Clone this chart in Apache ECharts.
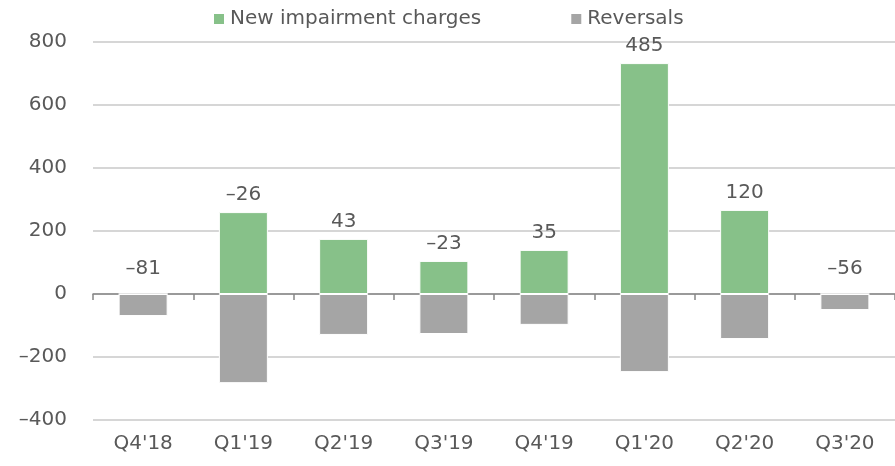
<!DOCTYPE html>
<html>
<head>
<meta charset="utf-8">
<script src="https://cdn.jsdelivr.net/npm/echarts@6/dist/echarts.min.js"></script>
<style>
  html, body { margin: 0; padding: 0; background: #fff; }
  #chart { width: 895px; height: 466px; }
</style>
</head>
<body>
<div id="chart"></div>
<script>
// quarters and values
var quarters = ["Q4'18", "Q1'19", "Q2'19", "Q3'19", "Q4'19", "Q1'20", "Q2'20", "Q3'20"]
var newCharges = [0, 260, 175, 105, 140, 733, 267, 0]
var reversals = [-70, -283, -130, -127, -98, -248, -143, -51]
var netLabels = [-81, -26, 43, -23, 35, 485, 120, -56]
var yTicks = [-400, -200, 0, 200, 400, 600, 800]

var textColor = '#595959'
var font = 'DejaVu Sans'

function fmt(v) {
  return v < 0 ? '\u2013' + Math.abs(v) : String(v)
}

// labels over empty green bars sit a bit higher off the zero line
var greenData = newCharges.map(function (v) {
  return v === 0 ? { value: v, label: { distance: 15 } } : v
})

var chart = echarts.init(document.getElementById('chart'))
chart.setOption({
  animation: false,
  textStyle: { fontFamily: font },
  legend: {
    top: 4,
    left: 207,
    itemWidth: 12,
    itemHeight: 12,
    itemGap: 88,
    icon: 'rect',
    textStyle: { color: textColor, fontSize: 20, fontFamily: font },
    data: ['New impairment charges', 'Reversals']
  },
  grid: { left: 93, right: 0, top: 42, bottom: 46 },
  xAxis: [{
    // zero line with ticks between quarters
    type: 'category',
    data: quarters,
    position: 'bottom',
    axisLine: { onZero: true, onZeroAxisIndex: 0, lineStyle: { color: '#878787', width: 1.5 } },
    axisTick: { show: true, length: 6, lineStyle: { color: '#878787', width: 1.5 } },
    axisLabel: { show: false }
  }, {
    // quarter labels at the bottom
    type: 'category',
    data: quarters,
    position: 'bottom',
    offset: 0,
    axisLine: { show: false, onZero: false },
    axisTick: { show: false },
    axisLabel: { color: textColor, fontSize: 20, margin: 14, fontFamily: font }
  }],
  yAxis: {
    type: 'value',
    min: yTicks[0],
    max: yTicks[yTicks.length - 1],
    interval: 200,
    axisLine: { show: false },
    axisTick: { show: false },
    axisLabel: {
      color: textColor,
      fontSize: 20,
      margin: 26,
      fontFamily: font,
      formatter: fmt
    },
    splitLine: { lineStyle: { color: '#c8c8c8', width: 1.5 } }
  },
  series: [{
    name: 'New impairment charges',
    type: 'bar',
    stack: 'total',
    barWidth: 49,
    data: greenData,
    itemStyle: { color: '#87c189', borderColor: '#fff', borderWidth: 1 },
    label: {
      show: true,
      position: 'top',
      distance: 7,
      color: textColor,
      fontSize: 20,
      fontFamily: font,
      formatter: function (p) { return fmt(netLabels[p.dataIndex]) }
    }
  }, {
    name: 'Reversals',
    type: 'bar',
    stack: 'total',
    barWidth: 49,
    data: reversals,
    itemStyle: { color: '#a5a5a5', borderColor: '#fff', borderWidth: 1 }
  }]
})
</script>
</body>
</html>
